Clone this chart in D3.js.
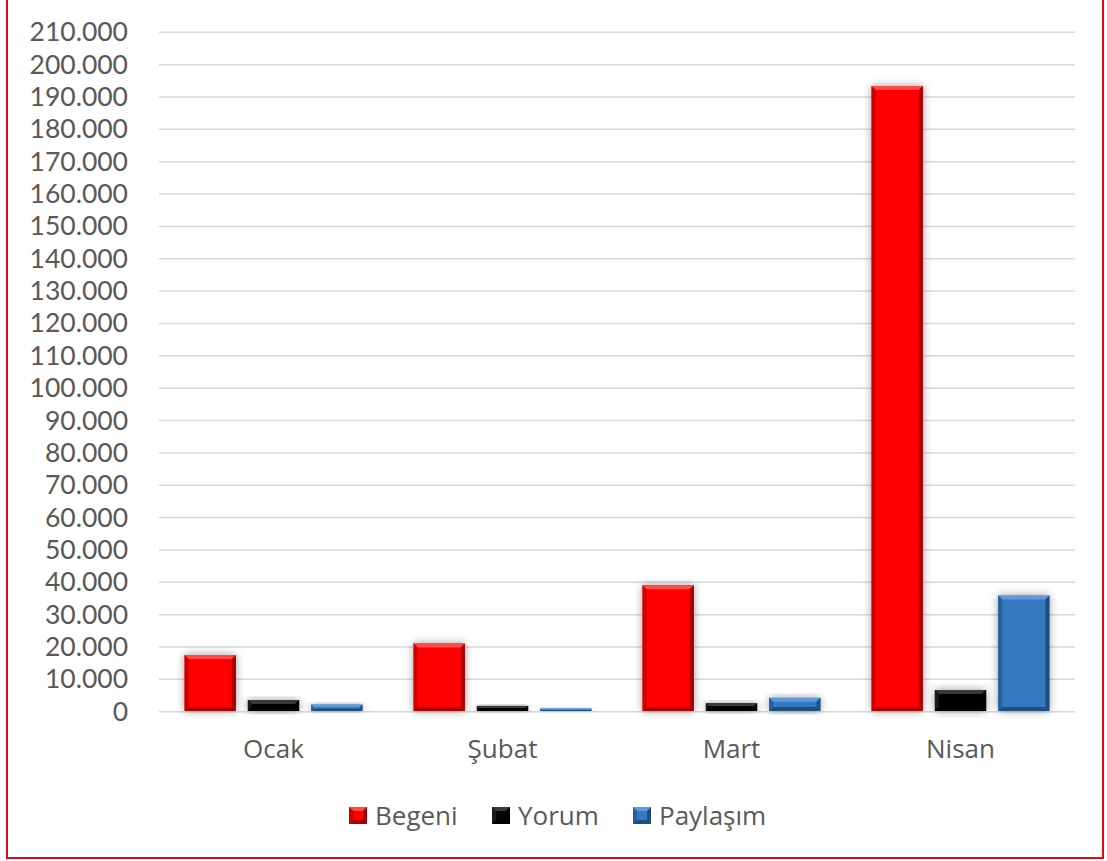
<!DOCTYPE html>
<html>
<head>
<meta charset="utf-8">
<script src="https://cdn.jsdelivr.net/npm/d3@7"></script>
<style>
  html, body { margin: 0; padding: 0; background: #fff; }
  svg { display: block; font-family: "Open Sans", sans-serif; }
</style>
</head>
<body>
<svg id="chart" width="1107" height="861"></svg>
<script>
// Monthly engagement figures
const months = ["Ocak", "Şubat", "Mart", "Nisan"];
const seriesNames = ["Begeni", "Yorum", "Paylaşım"];
const begeni = [17500, 21100, 39100, 193400];
const yorum = [3600, 1800, 2600, 6700];
const paylasim = [2200, 1000, 4300, 35900];
const yTicks = d3.range(0, 210001, 10000);

const seriesValues = [begeni, yorum, paylasim];
const palette = {
  "Begeni":   { base: "#ff0000", light: "#ff4a4a", dark: "#a80000", side: "#d00000" },
  "Yorum":    { base: "#050505", light: "#3a3a3a", dark: "#000000", side: "#1a1a1a" },
  "Paylaşım": { base: "#3478c0", light: "#5e9ad8", dark: "#1f4e80", side: "#28609c" }
};

const svg = d3.select("#chart");
const plot = { left: 159, right: 1075, top: 32.3, bottom: 711.7 };

// outer frame
svg.append("rect")
  .attr("x", 7).attr("y", -1.5)
  .attr("width", 1096).attr("height", 859.5)
  .attr("fill", "none").attr("stroke", "#e30613").attr("stroke-width", 2);

const defs = svg.append("defs");
const shadow = defs.append("filter").attr("id", "glow")
  .attr("x", "-30%").attr("y", "-30%").attr("width", "160%").attr("height", "160%");
shadow.append("feDropShadow")
  .attr("dx", 0).attr("dy", 0).attr("stdDeviation", 4)
  .attr("flood-color", "#000").attr("flood-opacity", 0.4);

const y = d3.scaleLinear().domain([0, 210000]).range([plot.bottom, plot.top]);
const x0 = d3.scaleBand().domain(months).range([plot.left, plot.right]).padding(0);
const x1 = d3.scaleBand().domain(seriesNames).range([0, x0.bandwidth()])
  .paddingInner(0.19).paddingOuter(0.404);

// gridlines
svg.append("g")
  .selectAll("line").data(yTicks).join("line")
  .attr("x1", plot.left).attr("x2", plot.right)
  .attr("y1", d => y(d)).attr("y2", d => y(d))
  .attr("stroke", "#d9d9d9").attr("stroke-width", 1.5);

// y axis labels
const fmt = d => d === 0 ? "0" : d3.format(",")(d).replace(/,/g, ".");
const yAxis = svg.append("g")
  .attr("transform", `translate(${plot.left - 31},0)`)
  .call(d3.axisLeft(y).tickValues(yTicks).tickFormat(fmt).tickSize(0).tickPadding(0));
yAxis.select(".domain").remove();
yAxis.selectAll("text")
  .attr("fill", "#595959").attr("font-size", 26.5)
  .attr("font-family", "Lato, sans-serif");

// x axis labels
const xAxis = svg.append("g")
  .attr("transform", `translate(0,${plot.bottom})`)
  .call(d3.axisBottom(x0).tickSize(0).tickPadding(28));
xAxis.select(".domain").remove();
xAxis.selectAll("text")
  .attr("fill", "#595959").attr("font-size", 26)
  .attr("font-family", "'Open Sans', sans-serif");

// beveled bar drawing
function bevelBar(g, bx, by, bw, bh, c, withShadow) {
  const b = Math.min(4, bh / 2.5, bw / 4);
  const grp = g.append("g");
  const base = grp.append("rect").attr("x", bx).attr("y", by).attr("width", bw).attr("height", bh)
    .attr("fill", c.base);
  if (withShadow) base.attr("filter", "url(#glow)");
  const poly = (pts, fill) => grp.append("polygon")
    .attr("points", pts.map(p => p.join(",")).join(" ")).attr("fill", fill);
  const x2 = bx + bw, y2 = by + bh;
  poly([[bx, by], [x2, by], [x2 - b, by + b], [bx + b, by + b]], c.light);
  poly([[x2, by], [x2, y2], [x2 - b, y2 - b], [x2 - b, by + b]], c.dark);
  poly([[bx, by], [bx + b, by + b], [bx + b, y2 - b], [bx, y2]], c.side);
  poly([[bx, y2], [bx + b, y2 - b], [x2 - b, y2 - b], [x2, y2]], c.dark);
}

const bars = svg.append("g");
months.forEach((m, i) => {
  seriesNames.forEach((s, j) => {
    const v = seriesValues[j][i];
    const bx = x0(m) + x1(s);
    const top = y(v);
    bevelBar(bars, bx, top, x1.bandwidth(), y(0) - 0.7 - top, palette[s], true);
  });
});

// legend
const legendItems = [
  { name: "Begeni", x: 349 },
  { name: "Yorum", x: 492 },
  { name: "Paylaşım", x: 633 }
];
const legend = svg.append("g");
legendItems.forEach(it => {
  const g = legend.append("g");
  bevelBar(g, it.x, 807, 18, 17, palette[it.name], false);
  g.append("text")
    .attr("x", it.x + 26).attr("y", 825)
    .attr("fill", "#595959").attr("font-size", 26)
    .text(it.name);
});
</script>
</body>
</html>
